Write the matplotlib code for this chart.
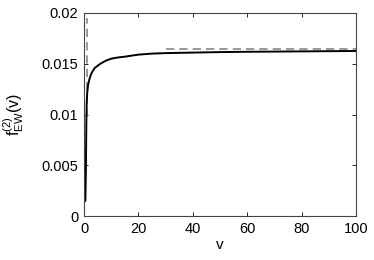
import matplotlib.pyplot as plt
from matplotlib import rcParams

config = {
    "font.family": ['Liberation Sans', 'DejaVu Sans'],
    "font.size": 10,
    "mathtext.fontset": 'custom',
    "mathtext.rm": 'Liberation Sans',
    "mathtext.it": 'Liberation Sans',
}
rcParams.update(config)

# values
v = [0.5, 0.7, 0.8, 0.9, 1.0, 1.2, 1.5, 2, 2.5, 3, 4, 5, 6, 8, 10, 12, 15,
     20, 25, 30, 40, 50, 60, 70, 80, 90, 100]
f = [0.0015, 0.0045, 0.0075, 0.0100, 0.0112, 0.0122, 0.0129, 0.0135, 0.0139,
     0.0142, 0.0146, 0.0148, 0.0150, 0.0153, 0.0155, 0.0156, 0.0157,
     0.0159, 0.0160, 0.01605, 0.0161, 0.01615, 0.01618, 0.0162, 0.01622,
     0.01624, 0.01626]
vert_x = [1.0, 1.0]
vert_y = [0.0098, 0.0195]
horiz_x = [30, 100]
horiz_y = [0.01645, 0.01645]

fig = plt.figure(figsize=(3.74, 2.6), dpi=100)
ax = fig.add_axes([0.2246, 0.169, 0.7274, 0.781])

ax.plot(vert_x, vert_y, '--', color='#888888', lw=1.2, dashes=(5, 3))
ax.plot(horiz_x, horiz_y, '--', color='#888888', lw=1.2, dashes=(5, 3))
ax.plot(v, f, '-', color='black', lw=1.4)

ax.set_xlim(0, 100)
ax.set_ylim(0, 0.02)
ax.set_xticks([0, 20, 40, 60, 80, 100])
ax.set_yticks([0, 0.005, 0.01, 0.015, 0.02])
ax.set_yticklabels(['0', '0.005', '0.01', '0.015', '0.02'])
ax.tick_params(direction='in', top=True, right=True, length=3, width=0.6,
               labelsize=10.5, pad=4)
for s in ax.spines.values():
    s.set_color('#444444')
    s.set_linewidth(0.8)

ax.set_xlabel('v', fontsize=11, labelpad=2)
ax.set_ylabel(r'$\mathregular{f^{(2)}_{EW}(v)}$', fontsize=11.5)
ax.yaxis.set_label_coords(-0.215, 0.5)

plt.savefig('out.png', dpi=100)
